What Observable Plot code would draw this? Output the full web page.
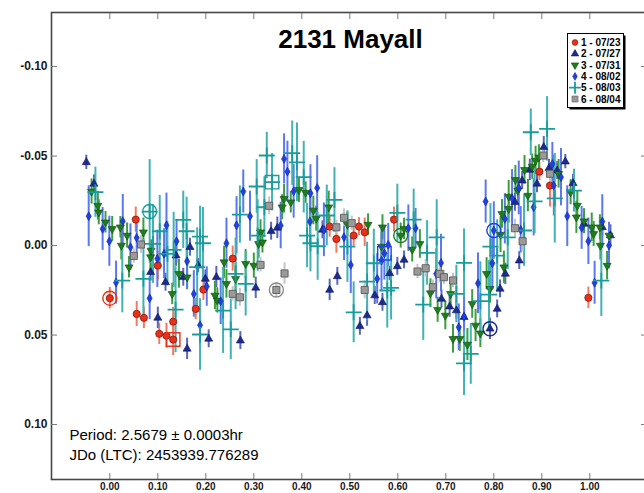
<!DOCTYPE html>
<html>
<head>
<meta charset="utf-8">
<script src="https://cdn.jsdelivr.net/npm/d3@7"></script>
<script src="https://cdn.jsdelivr.net/npm/@observablehq/plot@0.6"></script>
<style>
  html, body { margin: 0; padding: 0; background: #fff; }
  #chart { width: 644px; height: 493px; }
</style>
</head>
<body>
<div id="chart"></div>
<script>
// Lightcurve of asteroid 2131 Mayall, folded on the rotation period.
// Each session: [phase, reduced magnitude, error, optional ring marker]
const s1_0723 = [
  [0.000, 0.0294, 0.006, "circle"], [0.054, -0.0145, 0.007], [0.056, 0.0382, 0.007], [0.071, 0.0404, 0.006],
  [0.100, 0.0112, 0.008], [0.103, 0.0493, 0.006], [0.118, 0.0504, 0.007], [0.132, 0.0425, 0.008],
  [0.132, 0.0525, 0.009, "square"], [0.179, 0.0354, 0.006], [0.195, 0.0246, 0.006], [0.256, 0.0073, 0.007],
  [0.458, -0.0106, 0.006], [0.472, -0.0037, 0.008], [0.508, -0.0056, 0.006], [0.519, -0.0106, 0.005],
  [0.531, -0.0074, 0.008], [0.592, -0.0145, 0.007], [0.895, -0.0413, 0.005], [0.917, -0.0335, 0.012],
  [0.997, 0.0292, 0.006]
];
const s2_0727 = [
  [-0.049, -0.0465, 0.004], [-0.033, -0.0345, 0.005], [0.085, 0.0149, 0.005], [0.100, 0.0404, 0.006],
  [0.116, 0.0205, 0.005], [0.138, 0.0056, 0.006], [0.153, 0.0177, 0.005], [0.167, 0.0009, 0.005],
  [0.161, 0.0577, 0.006], [0.184, 0.0112, 0.004], [0.199, 0.0186, 0.005], [0.206, 0.0521, 0.005],
  [0.222, 0.0177, 0.006], [0.272, 0.0531, 0.005], [0.304, 0.0236, 0.006], [0.336, -0.0080, 0.005],
  [0.349, -0.0099, 0.006], [0.443, -0.0088, 0.005], [0.458, 0.0248, 0.006], [0.474, 0.0172, 0.005],
  [0.521, 0.0451, 0.005], [0.536, 0.0391, 0.006], [0.552, 0.0279, 0.005], [0.568, 0.0317, 0.005],
  [0.583, 0.0155, 0.004], [0.599, 0.0116, 0.005], [0.613, 0.0080, 0.005], [0.691, 0.0298, 0.005],
  [0.708, 0.0341, 0.006], [0.722, 0.0363, 0.005], [0.738, 0.0400, 0.006], [0.792, 0.0465, 0.006, "circle"],
  [0.807, 0.0354, 0.005], [0.813, 0.0242, 0.005], [0.824, 0.0158, 0.006], [0.853, 0.0084, 0.005],
  [0.844, -0.0242, 0.005], [0.859, -0.0363, 0.005], [0.875, -0.0423, 0.006], [0.890, -0.0345, 0.005],
  [0.904, -0.0549, 0.006], [0.915, -0.0432, 0.005], [0.932, -0.0419, 0.005], [0.949, -0.0469, 0.004],
  [0.965, -0.0348, 0.005], [0.988, -0.0121, 0.005], [1.026, -0.0102, 0.005], [1.043, -0.0056, 0.006]
];
const s3_0731 = [
  [-0.038, -0.0302, 0.007], [-0.025, -0.0223, 0.008], [-0.023, -0.0186, 0.007], [-0.009, -0.0130, 0.006],
  [0.005, -0.0093, 0.007], [0.022, -0.0102, 0.006], [0.024, 0.0000, 0.008], [0.036, -0.0056, 0.007],
  [0.040, 0.0121, 0.006], [0.070, -0.0074, 0.008], [0.085, 0.0065, 0.007], [0.086, 0.0028, 0.006],
  [0.130, 0.0270, 0.006], [0.144, 0.0158, 0.008], [0.161, 0.0177, 0.007], [0.219, 0.0279, 0.008],
  [0.224, 0.0307, 0.007], [0.238, 0.0093, 0.009], [0.243, 0.0214, 0.008], [0.262, 0.0186, 0.009],
  [0.283, 0.0102, 0.008], [0.300, 0.0112, 0.007], [0.310, -0.0009, 0.008], [0.314, -0.0074, 0.007],
  [0.318, -0.0018, 0.006], [0.363, -0.0261, 0.008], [0.359, -0.0214, 0.007], [0.377, -0.0242, 0.006],
  [0.394, -0.0311, 0.007], [0.408, -0.0296, 0.006], [0.424, -0.0196, 0.008], [0.430, -0.0151, 0.007],
  [0.456, -0.0214, 0.009], [0.495, -0.0117, 0.007], [0.538, -0.0117, 0.006], [0.568, -0.0102, 0.007],
  [0.566, 0.0006, 0.008], [0.606, -0.0056, 0.007, "circle"], [0.613, -0.0093, 0.006], [0.630, 0.0022, 0.007],
  [0.646, -0.0009, 0.008], [0.668, 0.0266, 0.008], [0.683, 0.0359, 0.007], [0.699, 0.0391, 0.008],
  [0.710, 0.0270, 0.009], [0.715, 0.0521, 0.008], [0.729, 0.0521, 0.007], [0.745, 0.0553, 0.009],
  [0.755, 0.0326, 0.008], [0.762, 0.0447, 0.009], [0.772, 0.0490, 0.008], [0.785, 0.0158, 0.009],
  [0.792, 0.0242, 0.008], [0.814, -0.0061, 0.010], [0.817, -0.0177, 0.008], [0.821, 0.0121, 0.009],
  [0.831, -0.0205, 0.008], [0.831, -0.0274, 0.009], [0.845, -0.0367, 0.008], [0.850, -0.0307, 0.007],
  [0.864, -0.0423, 0.008], [0.871, -0.0279, 0.009], [0.880, -0.0441, 0.007], [0.887, -0.0475, 0.008],
  [0.894, -0.0493, 0.007], [0.935, -0.0401, 0.008], [0.960, -0.0298, 0.007], [0.974, -0.0223, 0.008],
  [0.972, -0.0158, 0.009], [0.988, -0.0136, 0.007], [1.004, -0.0102, 0.008], [1.008, -0.0065, 0.007],
  [1.022, 0.0000, 0.008], [1.021, -0.0102, 0.007], [1.036, 0.0112, 0.008], [1.040, -0.0056, 0.007]
];
const s4_0802 = [
  [-0.044, -0.0164, 0.017], [-0.015, -0.0093, 0.012], [-0.001, -0.0024, 0.014], [0.013, 0.0207, 0.012],
  [0.027, -0.0136, 0.015], [0.043, 0.0009, 0.013], [0.056, -0.0043, 0.011], [0.083, 0.0294, 0.012],
  [0.099, 0.0074, 0.016], [0.113, 0.0046, 0.014], [0.118, -0.0113, 0.018], [0.139, -0.0024, 0.012],
  [0.161, 0.0088, 0.015], [0.175, 0.0270, 0.013], [0.188, 0.0445, 0.012], [0.202, 0.0229, 0.011],
  [0.231, 0.0311, 0.013], [0.243, -0.0013, 0.014], [0.264, -0.0113, 0.016], [0.278, -0.0302, 0.012],
  [0.292, -0.0164, 0.014], [0.356, -0.0112, 0.013], [0.363, -0.0484, 0.014], [0.370, -0.0413, 0.017],
  [0.383, -0.0303, 0.015], [0.417, -0.0134, 0.014], [0.418, -0.0292, 0.016], [0.432, -0.0322, 0.018],
  [0.446, -0.0088, 0.015], [0.488, -0.0046, 0.013], [0.502, 0.0108, 0.016], [0.557, 0.0186, 0.014],
  [0.566, 0.0084, 0.017], [0.572, 0.0043, 0.015, "square"], [0.580, -0.0004, 0.012], [0.622, -0.0097, 0.013],
  [0.637, -0.0097, 0.011], [0.680, 0.0158, 0.014], [0.690, 0.0097, 0.016], [0.727, 0.0456, 0.013],
  [0.738, 0.0397, 0.015], [0.767, 0.0211, 0.017], [0.783, -0.0246, 0.012], [0.797, 0.0099, 0.015],
  [0.800, -0.0084, 0.016, "circle"], [0.823, -0.0149, 0.014], [0.838, -0.0264, 0.016], [0.852, -0.0322, 0.015],
  [0.856, -0.0088, 0.013], [0.883, -0.0214, 0.016], [0.922, -0.0456, 0.012], [0.925, -0.0335, 0.017],
  [0.940, -0.0382, 0.016], [0.953, -0.0164, 0.017], [0.983, -0.0099, 0.012], [0.997, -0.0024, 0.013],
  [1.010, 0.0208, 0.012], [1.026, -0.0134, 0.015], [1.040, 0.0000, 0.013]
];
const s5_0803 = [
  [-0.030, -0.0298, 0.014], [0.026, 0.0196, 0.018], [0.070, 0.0186, 0.022], [0.083, -0.0190, 0.029, "circle"],
  [0.090, -0.0009, 0.022], [0.104, -0.0080, 0.020], [0.120, 0.0046, 0.018], [0.133, 0.0024, 0.021],
  [0.137, 0.0358, 0.024], [0.153, -0.0144, 0.016], [0.160, -0.0080, 0.019], [0.182, 0.0121, 0.022],
  [0.188, -0.0050, 0.017], [0.194, -0.0013, 0.020], [0.188, 0.0497, 0.020], [0.236, 0.0363, 0.024],
  [0.252, 0.0468, 0.017], [0.262, 0.0158, 0.020], [0.271, -0.0173, 0.016], [0.283, 0.0214, 0.018],
  [0.306, -0.0330, 0.015], [0.308, -0.0056, 0.020], [0.322, -0.0214, 0.017], [0.327, -0.0503, 0.013],
  [0.338, -0.0354, 0.016, "square"], [0.380, -0.0516, 0.018], [0.390, -0.0465, 0.022], [0.404, -0.0382, 0.020],
  [0.411, -0.0056, 0.018], [0.418, -0.0013, 0.016], [0.433, 0.0004, 0.019], [0.452, -0.0168, 0.017],
  [0.468, -0.0255, 0.018], [0.495, 0.0006, 0.020], [0.508, 0.0373, 0.017], [0.536, 0.0201, 0.022],
  [0.550, 0.0099, 0.019], [0.578, 0.0251, 0.021], [0.586, 0.0236, 0.018], [0.599, -0.0183, 0.016],
  [0.633, -0.0145, 0.017], [0.653, 0.0330, 0.020], [0.661, 0.0041, 0.018], [0.681, -0.0046, 0.021],
  [0.722, 0.0270, 0.016], [0.738, 0.0097, 0.019], [0.738, 0.0658, 0.018], [0.752, 0.0605, 0.017],
  [0.772, 0.0311, 0.022], [0.790, 0.0274, 0.019], [0.793, 0.0006, 0.024], [0.807, 0.0056, 0.020],
  [0.829, -0.0046, 0.018], [0.863, -0.0084, 0.020], [0.877, -0.0633, 0.013], [0.885, -0.0247, 0.018],
  [0.911, -0.0652, 0.018], [0.927, -0.0264, 0.025], [0.967, -0.0307, 0.012], [1.024, 0.0196, 0.020]
];
const s6_0804 = [
  [0.050, 0.0058, 0.004], [0.065, -0.0006, 0.005], [0.256, 0.0270, 0.004], [0.271, 0.0289, 0.005],
  [0.314, 0.0108, 0.004], [0.332, -0.0222, 0.005], [0.347, 0.0248, 0.004, "circle"], [0.364, 0.0156, 0.006],
  [0.472, -0.0102, 0.004], [0.488, -0.0155, 0.005], [0.504, -0.0125, 0.004], [0.531, 0.0248, 0.005],
  [0.641, 0.0145, 0.004], [0.658, 0.0127, 0.005], [0.673, 0.0233, 0.004], [0.687, 0.0158, 0.005],
  [0.696, 0.0177, 0.004], [0.715, 0.0195, 0.004], [0.844, -0.0097, 0.005], [0.860, -0.0024, 0.006],
  [0.903, -0.0503, 0.004], [0.917, -0.0401, 0.005]
];

const sessionLabels = ["1 - 07/23", "2 - 07/27", "3 - 07/31", "4 - 08/02", "5 - 08/03", "6 - 08/04"];
const xTicks = [0, 0.1, 0.2, 0.3, 0.4, 0.5, 0.6, 0.7, 0.8, 0.9, 1.0];
const yTicks = [-0.10, -0.05, 0.00, 0.05, 0.10];
const titleText = "2131 Mayall";
const periodHr = "2.5679", periodErr = "0.0003", jdZero = "2453939.776289";

// Downward-pointing triangle for session 3
const triangleDown = {
  draw(ctx, size) {
    const s3 = Math.sqrt(3);
    const y = Math.sqrt(size / (s3 * 3));
    ctx.moveTo(0, 2 * y);
    ctx.lineTo(-s3 * y, -y);
    ctx.lineTo(s3 * y, -y);
    ctx.closePath();
  }
};

const styles = [
  {symbol: "circle",   r: 3.6, fill: "#e8311a", stroke: "#8c1808", sw: 0.8, bar: "#f27a62", ring: "#e8311a"},
  {symbol: "triangle", r: 3.0, fill: "#1b2b8f", stroke: "#0d1560", sw: 0.6, bar: "#5a68b8", ring: "#1b2b8f"},
  {symbol: triangleDown, r: 3.0, fill: "#1e7d1e", stroke: "#0f4f0f", sw: 0.6, bar: "#3c9e3c", ring: "#1e7d1e"},
  {symbol: "diamond",  r: 2.7, fill: "#1f40e6", stroke: "#10269a", sw: 0.6, bar: "#5b78f0", ring: "#1f40e6"},
  {symbol: "plus",     r: 5.2, fill: "none",    stroke: "#1a9c9c", sw: 1.8, bar: "#43b2b2", ring: "#1a9c9c"},
  {symbol: "square",   r: 4.0, fill: "#9a9a9a", stroke: "#5a5a5a", sw: 0.9, bar: "#c4c4c4", ring: "#8a8a8a"}
];
const sessions = [s1_0723, s2_0727, s3_0731, s4_0802, s5_0803, s6_0804];

const rows = sessions.map((pts, k) => pts.map(([phase, mag, err, ring]) => ({k, phase, mag, err, ring})));

const marks = [];
rows.forEach((data, k) => {
  const st = styles[k];
  marks.push(Plot.ruleX(data, {x: "phase", y1: d => d.mag - d.err, y2: d => d.mag + d.err, stroke: st.bar, strokeWidth: 2}));
});
rows.forEach((data, k) => {
  const st = styles[k];
  marks.push(Plot.dot(data, {x: "phase", y: "mag", symbol: st.symbol, r: st.r, fill: st.fill, stroke: st.stroke, strokeWidth: st.sw}));
});
// Open rings around the flagged observations
rows.forEach((data, k) => {
  const st = styles[k];
  marks.push(
    Plot.dot(data.filter(d => d.ring === "circle"), {x: "phase", y: "mag", symbol: "circle", r: 7,
      fill: "none", stroke: st.ring, strokeWidth: 1.4}),
    Plot.dot(data.filter(d => d.ring === "square"), {x: "phase", y: "mag", symbol: "square", r: 7.6,
      fill: "none", stroke: st.ring, strokeWidth: 1.4})
  );
});

const fmt = d => d.toFixed(2);
const font = "'Liberation Sans', Arial, Helvetica, sans-serif";

marks.push(
  Plot.frame({stroke: "#474747", strokeWidth: 1.6}),
  Plot.axisX(xTicks, {anchor: "bottom", tickSize: -6, tickPadding: 9, tickFormat: fmt, label: null,
    stroke: "#777", fill: "#1a1a1a", fontSize: 10, fontWeight: "bold"}),
  Plot.axisX(xTicks, {anchor: "top", tickSize: -6, tickFormat: () => "", label: null, stroke: "#777"}),
  Plot.axisY(yTicks, {anchor: "left", tickSize: -6, tickPadding: 10, tickFormat: fmt, label: null,
    stroke: "#777", fill: "#1a1a1a", fontSize: 12, fontWeight: "bold"}),
  Plot.axisY(yTicks, {anchor: "right", tickSize: -6, tickFormat: () => "", label: null, stroke: "#777"}),
  Plot.text([titleText], {frameAnchor: "top", dx: 1.5, dy: 27, lineAnchor: "middle",
    fontSize: 26, fontWeight: "bold", fill: "#000"}),
  Plot.text([`Period: ${periodHr} \u00b1 ${periodErr}hr\nJDo (LTC): ${jdZero}`], {
    frameAnchor: "bottom-left", dx: 18, dy: -36, textAnchor: "start", lineAnchor: "middle",
    fontSize: 15, lineHeight: 1.33, fill: "#000"})
);

const chart = Plot.plot({
  width: 644, height: 493,
  marginLeft: 51, marginRight: -2, marginTop: 12, marginBottom: 14,
  x: {domain: [-0.1215, 1.1181]},
  y: {domain: [-0.1302, 0.1307], reverse: true},
  style: {fontFamily: font, background: "#fff", color: "#1a1a1a"},
  marks
});

// Session legend box in the upper right corner
const svg = d3.select(chart);
const lg = svg.append("g").attr("transform", "translate(567,33)");
lg.append("rect").attr("x", 2.5).attr("y", 2.5).attr("width", 56).attr("height", 74).attr("fill", "#000");
lg.append("rect").attr("x", 0.5).attr("y", 0.5).attr("width", 56).attr("height", 74)
  .attr("fill", "#fff").attr("stroke", "#000").attr("stroke-width", 1);
const legendSym = [d3.symbolCircle, d3.symbolTriangle, triangleDown, d3.symbolDiamond, d3.symbolPlus, d3.symbolSquare];
const legendSize = [26, 24, 24, 18, 48, 36];
sessionLabels.forEach((label, k) => {
  const st = styles[k];
  const y = 9.5 + k * 11.3;
  lg.append("path")
    .attr("transform", `translate(8,${y})`)
    .attr("d", d3.symbol(legendSym[k], legendSize[k])())
    .attr("fill", st.fill)
    .attr("stroke", st.stroke)
    .attr("stroke-width", k === 4 ? 1.8 : 0.6);
  lg.append("text")
    .attr("x", 14).attr("y", y + 3.6)
    .attr("text-anchor", "start")
    .attr("font-size", 10).attr("font-weight", "bold").attr("fill", "#000")
    .attr("font-family", font)
    .text(label);
});

document.getElementById("chart").appendChild(chart);
</script>
</body>
</html>
